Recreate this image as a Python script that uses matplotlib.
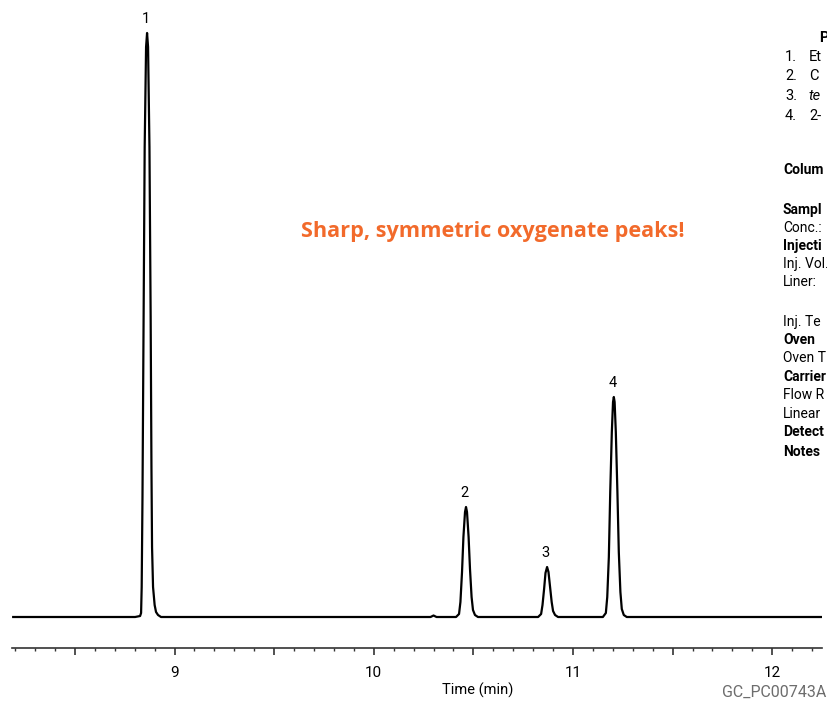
import matplotlib
matplotlib.use("Agg")
import matplotlib.pyplot as plt
from matplotlib.ticker import MultipleLocator, FuncFormatter

plt.rcParams['font.family'] = ['Roboto', 'DejaVu Sans']

# chromatogram trace (time in min, signal in arbitrary units)
base_t = [8.19, 8.80]
base_s = [0, 0]

peak1_t = [8.802, 8.827, 8.832, 8.835, 8.839, 8.844, 8.850, 8.857, 8.862,
           8.867, 8.874, 8.880, 8.884, 8.887, 8.892, 8.900, 8.907, 8.917, 8.932]
peak1_s = [0, 1, 4, 30, 120, 280, 470, 570, 584,
           570, 470, 300, 150, 70, 30, 12, 5, 2, 0]

bump_t = [10.285, 10.300, 10.315]
bump_s = [0, 1.5, 0]

peak2_t = [10.413, 10.428, 10.435, 10.443, 10.450, 10.458, 10.463,
           10.468, 10.476, 10.483, 10.491, 10.498, 10.508, 10.523]
peak2_s = [0, 3, 15, 45, 80, 105, 110, 105, 80, 48, 20, 7, 2, 0]

peak3_t = [10.825, 10.840, 10.847, 10.855, 10.862, 10.870,
           10.877, 10.885, 10.893, 10.900, 10.910, 10.925]
peak3_s = [0, 3, 12, 28, 44, 50, 45, 30, 15, 6, 2, 0]

peak4_t = [11.150, 11.165, 11.172, 11.180, 11.187, 11.195, 11.201, 11.205,
           11.209, 11.215, 11.223, 11.230, 11.238, 11.245, 11.255, 11.270]
peak4_s = [0, 4, 20, 60, 125, 185, 215, 220,
           215, 185, 125, 65, 25, 8, 2, 0]

end_t = [12.245]
end_s = [0]

peak_labels = ["1", "2", "3", "4"]
peak_times = [8.862, 10.463, 10.870, 11.205]
peak_heights = [584, 110, 50, 220]

# the conditions panel is cut by the right edge in the original; only the visible part is kept
peak_nums = ["1.", "2.", "3.", "4."]
peak_names = ["Et", "C", "te", "2-"]
cond_labels = [("Colum", True, 170), ("Sampl", True, 210), ("Conc.:", False, 228),
               ("Injecti", True, 246), ("Inj. Vol.", False, 264), ("Liner:", False, 282),
               ("Inj. Te", False, 322), ("Oven", True, 340), ("Oven T", False, 358),
               ("Carrier", True, 377), ("Flow R", False, 395),
               ("Linear", False, 414), ("Detect", True, 432), ("Notes", True, 452)]

t = base_t + peak1_t + bump_t + peak2_t + peak3_t + peak4_t + end_t
s = base_s + peak1_s + bump_s + peak2_s + peak3_s + peak4_s + end_s

W, H = 828, 702
fig = plt.figure(figsize=(W / 100, H / 100), dpi=100)
ax = fig.add_axes([12 / W, 1 - 648 / H, 810 / W, 638 / H])

ax.plot(t, s, color='black', lw=1.6, solid_joinstyle='round')

for lab, pt, ph in zip(peak_labels, peak_times, peak_heights):
    ax.annotate(lab, (pt, ph), xytext=(-1, 5), textcoords='offset points',
                ha='center', va='bottom', fontsize=10.5)

ax.set_xlim(8.184, 12.250)
ax.set_ylim(-31, 607)
for side in ['left', 'right', 'top']:
    ax.spines[side].set_visible(False)
ax.spines['bottom'].set_color('#333333')
ax.spines['bottom'].set_linewidth(1.2)
ax.set_yticks([])

ax.xaxis.set_major_locator(MultipleLocator(0.5))
ax.xaxis.set_minor_locator(MultipleLocator(0.1))
ax.xaxis.set_major_formatter(FuncFormatter(lambda v, p: f"{v:.0f}" if abs(v - round(v)) < 1e-6 else ""))
ax.tick_params(axis='x', which='major', length=5, width=1.2, color='#333333',
               labelsize=11, pad=8)
ax.tick_params(axis='x', which='minor', length=2.5, width=1.0, color='#333333')

fig.text(478 / W, 1 - 690 / H, "Time (min)", ha='center', va='center', fontsize=10.5)
fig.text(826 / W, 1 - 692 / H, "GC_PC00743A", ha='right', va='center',
         fontsize=11.5, color='#6d6d6d')

fig.text(493 / W, 1 - 232 / H, "Sharp, symmetric oxygenate peaks!", ha='center', va='center',
         fontsize=15.6, fontweight='bold', color='#f26a2b', family=['Open Sans', 'DejaVu Sans'])

# conditions panel
fig.text(819 / W, 1 - 38 / H, "P", ha='left', va='center', fontsize=10.5, fontweight='bold')
for i, (num, name) in enumerate(zip(peak_nums, peak_names)):
    y = [57, 76, 96, 116][i]
    fig.text(785 / W, 1 - y / H, num, ha='left', va='center', fontsize=10.5)
    fig.text(809 / W, 1 - y / H, name, ha='left', va='center', fontsize=10.5,
             style='italic' if i == 2 else 'normal')
for txt, bold, y in cond_labels:
    fig.text(783 / W, 1 - y / H, txt, ha='left', va='center', fontsize=10,
             fontweight='bold' if bold else 'normal', fontstretch='condensed')

fig.savefig("out.png", dpi=100)
